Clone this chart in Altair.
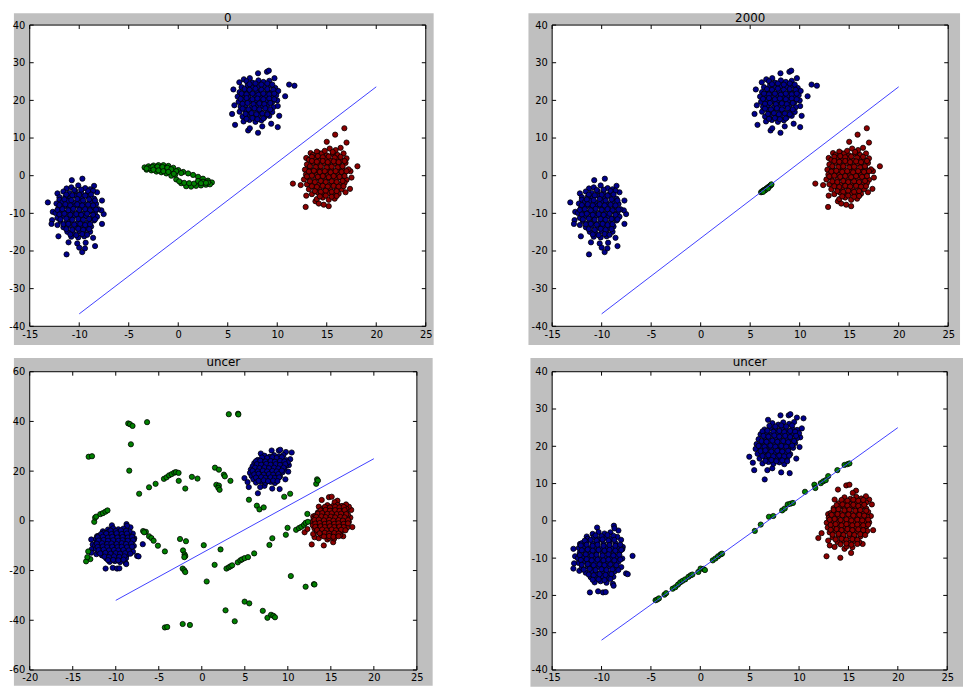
"""Four scatter panels: clusters, a separating line and the uncertain points."""

import altair as alt
import pandas as pd

BLUE = "#00008c"
GREEN = "#008000"
RED = "#8c0000"
LINE_COLOR = "#3f3fff"
PANEL_GRAY = "#bfbfbf"
FONT = "DejaVu Sans"

X_TICKS = [-15, -10, -5, 0, 5, 10, 15, 20, 25]
X_TICKS_WIDE = [-20, -15, -10, -5, 0, 5, 10, 15, 20, 25]
Y_TICKS = [-40, -30, -20, -10, 0, 10, 20, 30, 40]
Y_TICKS_WIDE = [-60, -40, -20, 0, 20, 40, 60]

LINE_X = [-10, 20]
LINE_Y_EARLY = [-36.7, 23.6]
LINE_Y_LATE = [-32.0, 25.0]

# clusters of the first two panels
EARLY_BLUE_LOW = [
    (-13.17, -7.1), (-12.67, -9.6), (-12.74, -11.8), (-12.8, -12.8), (-12.2, -13.1), (-12.1, -16.1),
    (-11.28, -20.9), (-11.08, -17.7), (-10.2, -18.0), (-10.0, -19.1), (-9.7, -20.3), (-9.42, -19.3),
    (-9.35, -17.8), (-8.4, -18.7), (-8.6, -16.5), (-7.7, -12.8), (-7.53, -10.2), (-7.76, -9.2),
    (-7.7, -6.6), (-8.5, -2.7), (-8.2, -4.4), (-9.68, -0.8), (-10.75, -1.2), (-11.28, -3.4),
    (-12.2, -4.7), (-12.0, -5.7),
    (-10.8, -3.1), (-10.1, -2.6), (-9.4, -3.3), (-8.9, -3.6),
    (-11.6, -4.2), (-11.0, -4.6), (-10.4, -4.1), (-9.8, -4.5), (-9.2, -4.9), (-8.6, -4.0),
    (-12.0, -6.4), (-11.4, -5.6), (-10.9, -5.9), (-10.3, -5.4), (-9.7, -6.0), (-9.1, -5.5), (-8.5, -6.1),
    (-12.3, -7.4), (-11.7, -7.0), (-11.2, -6.7), (-10.6, -7.2), (-10.0, -6.8), (-9.5, -7.3), (-8.9, -6.9),
    (-8.3, -7.5),
    (-12.1, -8.6), (-11.5, -8.1), (-11.0, -8.5), (-10.4, -8.0), (-9.9, -8.7), (-9.3, -8.2), (-8.7, -8.4),
    (-8.1, -8.9),
    (-12.4, -9.9), (-11.8, -9.4), (-11.3, -9.8), (-10.7, -9.3), (-10.1, -9.7), (-9.6, -10.1), (-9.0, -9.5),
    (-8.4, -9.8),
    (-12.2, -11.2), (-11.6, -10.7), (-11.0, -11.1), (-10.5, -10.6), (-9.9, -11.0), (-9.3, -10.8),
    (-8.8, -11.3), (-8.2, -10.9),
    (-11.9, -12.0), (-11.3, -12.5), (-10.8, -12.1), (-10.2, -12.6), (-9.7, -12.2), (-9.1, -12.4), (-8.5, -11.9),
    (-11.6, -13.7), (-11.0, -13.3), (-10.4, -13.8), (-9.9, -13.4), (-9.3, -13.9), (-8.8, -13.5),
    (-11.2, -14.9), (-10.6, -15.3), (-10.0, -14.7), (-9.5, -15.2), (-8.9, -14.9),
    (-10.8, -16.2), (-10.1, -16.4), (-9.5, -16.1),
]
EARLY_BLUE_LOW_DENSE = [
    (-10.5, -3.8), (-9.8, -3.7), (-9.1, -4.1),
    (-11.3, -5.0), (-10.7, -5.2), (-10.0, -5.1), (-9.4, -5.3), (-8.8, -5.0),
    (-11.5, -6.3), (-10.8, -6.5), (-10.2, -6.2), (-9.6, -6.6), (-9.0, -6.3), (-8.4, -6.6),
    (-12.0, -7.8), (-11.4, -7.6), (-10.9, -7.9), (-10.2, -7.6), (-9.7, -7.9), (-9.1, -7.7), (-8.6, -7.9),
    (-12.2, -9.1), (-11.7, -8.9), (-11.1, -9.2), (-10.6, -8.8), (-10.0, -9.1), (-9.4, -8.9), (-8.9, -9.2),
    (-8.3, -9.0),
    (-12.0, -10.3), (-11.5, -10.1), (-10.9, -10.4), (-10.3, -10.2), (-9.8, -10.4), (-9.2, -10.1),
    (-8.6, -10.4),
    (-11.9, -11.6), (-11.3, -11.4), (-10.7, -11.7), (-10.1, -11.5), (-9.6, -11.7), (-9.0, -11.5),
    (-8.4, -11.6),
    (-11.6, -12.9), (-11.1, -12.8), (-10.5, -13.0), (-9.9, -12.8), (-9.4, -13.1), (-8.9, -12.9),
    (-11.3, -14.2), (-10.7, -14.4), (-10.1, -14.1), (-9.6, -14.4), (-9.0, -14.2),
    (-10.9, -15.6), (-10.3, -15.8), (-9.7, -15.5), (-9.2, -15.7),
]
EARLY_BLUE_HIGH = [
    (5.44, 16.4), (5.57, 22.9), (5.67, 18.7), (5.74, 13.5), (6.17, 24.8), (7.06, 12.0), (7.23, 12.6),
    (8.06, 11.4), (8.49, 13.1), (9.39, 13.8), (10.05, 12.9), (10.2, 15.9), (10.05, 18.5), (10.8, 21.1),
    (11.2, 24.2), (11.74, 23.9), (9.72, 25.9), (8.96, 27.6), (9.15, 27.9), (8.06, 27.2), (7.23, 25.9),
    (6.63, 25.6),
    (6.9, 25.1), (7.5, 24.7), (8.1, 25.3), (8.6, 24.9), (9.2, 25.2),
    (6.4, 23.5), (7.0, 23.9), (7.5, 23.4), (8.1, 23.8), (8.7, 23.5), (9.3, 23.9), (9.8, 23.3),
    (6.2, 22.2), (6.8, 22.6), (7.3, 22.1), (7.9, 22.5), (8.4, 22.0), (9.0, 22.6), (9.5, 22.2), (10.1, 22.5),
    (6.0, 21.0), (6.6, 21.4), (7.1, 20.9), (7.7, 21.3), (8.3, 20.8), (8.8, 21.2), (9.4, 20.9), (9.9, 21.4),
    (6.1, 19.6), (6.7, 20.1), (7.2, 19.7), (7.8, 20.0), (8.4, 19.5), (8.9, 19.9), (9.5, 19.6), (10.0, 20.0),
    (6.3, 18.3), (6.8, 18.7), (7.4, 18.2), (7.9, 18.6), (8.5, 18.4), (9.0, 18.8), (9.6, 18.2),
    (6.2, 17.0), (6.8, 17.4), (7.3, 16.9), (7.9, 17.3), (8.4, 16.8), (9.0, 17.2), (9.5, 16.9),
    (6.5, 15.7), (7.0, 16.1), (7.6, 15.6), (8.1, 16.0), (8.7, 15.5), (9.2, 15.9),
    (6.6, 14.4), (7.2, 14.8), (7.8, 14.3), (8.4, 14.7),
]
EARLY_BLUE_HIGH_DENSE = [
    (7.2, 24.3), (7.8, 24.5), (8.4, 24.2), (9.0, 24.5), (9.5, 24.2),
    (6.7, 23.0), (7.2, 22.8), (7.8, 23.1), (8.4, 22.8), (9.0, 23.0), (9.6, 22.8),
    (6.4, 21.8), (6.9, 21.6), (7.5, 21.8), (8.1, 21.5), (8.6, 21.8), (9.2, 21.6), (9.7, 21.8),
    (6.3, 20.4), (6.9, 20.6), (7.5, 20.3), (8.0, 20.5), (8.6, 20.3), (9.2, 20.5), (9.7, 20.3),
    (6.5, 19.1), (7.0, 19.3), (7.6, 19.0), (8.2, 19.2), (8.7, 19.0), (9.3, 19.3),
    (6.5, 17.8), (7.1, 17.6), (7.7, 17.9), (8.2, 17.6), (8.8, 17.9), (9.3, 17.6),
    (6.8, 16.4), (7.4, 16.6), (7.9, 16.3), (8.5, 16.5), (9.0, 16.3),
    (6.9, 15.1), (7.5, 15.3), (8.0, 15.0), (8.6, 15.2),
]
EARLY_RED = [
    (11.58, -2.1), (12.37, -2.5), (12.87, -8.3), (12.93, -5.3), (13.86, -6.8), (14.2, -7.4), (14.7, -7.7),
    (15.2, -8.1), (16.9, -4.4), (17.35, -3.5), (18.1, 2.5), (17.5, -0.5), (17.4, 1.2), (17.0, 8.8),
    (16.78, 12.6), (15.85, 10.9), (15.0, 9.0), (12.93, 4.7), (13.37, 6.0), (14.2, 6.0),
    (15.3, 7.2), (15.9, 6.8), (16.4, 7.4),
    (13.6, 5.5), (14.5, 5.9), (15.0, 5.4), (15.6, 5.8), (16.1, 5.5), (16.7, 5.9),
    (13.2, 4.2), (13.8, 4.6), (14.3, 4.1), (14.9, 4.5), (15.4, 4.0), (16.0, 4.4), (16.5, 4.1), (17.0, 4.6),
    (13.0, 3.0), (13.6, 3.4), (14.1, 2.9), (14.7, 3.3), (15.2, 2.8), (15.8, 3.2), (16.3, 2.9), (16.9, 3.4),
    (12.8, 1.6), (13.3, 2.0), (13.9, 1.5), (14.4, 1.9), (15.0, 1.4), (15.5, 1.8), (16.1, 1.5), (16.6, 2.0),
    (17.2, 1.7),
    (12.9, 0.3), (13.5, 0.7), (14.0, 0.2), (14.6, 0.6), (15.1, 0.1), (15.7, 0.5), (16.2, 0.2), (16.8, 0.7),
    (12.7, -1.0), (13.2, -0.6), (13.8, -1.1), (14.3, -0.7), (14.9, -1.2), (15.4, -0.8), (16.0, -1.0),
    (16.5, -0.6), (17.0, -1.1),
    (13.0, -2.3), (13.5, -1.9), (14.1, -2.4), (14.6, -2.0), (15.2, -2.5), (15.7, -2.1), (16.3, -2.3),
    (16.8, -1.9),
    (13.2, -3.6), (13.8, -3.2), (14.3, -3.7), (14.9, -3.3), (15.4, -3.8), (16.0, -3.4), (16.5, -3.6),
    (13.5, -4.9), (14.1, -4.5), (14.6, -5.0), (15.2, -4.6), (15.7, -5.1), (16.2, -4.8),
    (14.0, -6.2), (14.6, -5.8), (15.2, -6.4), (15.8, -6.1),
]
EARLY_RED_DENSE = [
    (14.0, 6.4), (14.8, 6.6), (15.6, 6.3),
    (13.5, 5.0), (14.1, 5.2), (14.6, 4.9), (15.2, 5.1), (15.8, 4.8), (16.4, 5.0),
    (13.5, 3.9), (14.0, 3.7), (14.6, 3.9), (15.1, 3.6), (15.7, 3.8), (16.2, 3.6), (16.8, 3.9),
    (13.3, 2.5), (13.9, 2.3), (14.4, 2.5), (15.0, 2.2), (15.5, 2.4), (16.1, 2.2), (16.6, 2.5),
    (13.2, 1.1), (13.7, 1.3), (14.3, 1.0), (14.8, 1.2), (15.4, 0.9), (15.9, 1.2), (16.5, 1.0), (17.0, 1.2),
    (13.0, -0.2), (13.5, 0.0), (14.1, -0.3), (14.6, -0.1), (15.2, -0.4), (15.7, -0.1), (16.3, -0.3),
    (16.8, -0.1),
    (13.3, -1.5), (13.8, -1.7), (14.4, -1.4), (14.9, -1.7), (15.5, -1.5), (16.0, -1.7), (16.6, -1.4),
    (13.5, -2.8), (14.0, -3.0), (14.6, -2.7), (15.1, -2.9), (15.7, -2.7), (16.2, -2.9), (16.7, -2.8),
    (13.8, -4.1), (14.4, -4.3), (14.9, -4.0), (15.5, -4.3), (16.0, -4.1),
    (14.3, -5.5), (14.9, -5.3), (15.5, -5.6), (16.0, -5.4),
]
GREEN_START = [
    (-3.4, 2.2), (-3.0, 2.5), (-2.5, 2.7), (-2.0, 2.8), (-1.5, 2.8), (-1.0, 2.6), (-0.5, 2.1), (0.0, 1.5),
    (0.5, 1.0), (1.0, 0.6), (1.5, 0.2), (2.0, -0.3), (2.5, -0.8), (3.0, -1.3), (3.4, -1.8),
    (-3.2, 1.6), (-2.7, 1.4), (-2.2, 1.1), (-1.7, 0.9), (-1.2, 0.6), (-0.7, 0.0), (-0.2, -1.0), (0.3, -2.0),
    (0.8, -2.8), (1.3, -2.9), (1.8, -2.7), (2.3, -2.6), (2.8, -2.4), (3.2, -2.3),
    (-2.9, 2.0), (-2.4, 2.0), (-1.9, 1.9), (-1.4, 1.7), (-0.9, 1.5), (-0.5, 1.0), (-0.3, 0.3),
    (0.6, -1.9), (1.1, -2.0), (1.6, -2.1), (2.0, -1.4), (2.5, -1.6), (3.0, -1.8),
    (-3.2, 1.9), (-2.6, 2.3), (-2.1, 2.4), (-1.6, 2.3), (-1.1, 2.1), (-0.7, 1.7), (-0.2, 1.2), (0.3, 0.7),
    (-2.5, 1.6), (-2.0, 1.4), (-1.5, 1.2), (-1.0, 1.0), (-0.45, 0.5), (0.1, -1.5), (2.3, -2.0), (2.8, -1.9),
]
GREEN_2000 = [
    (6.1, -4.4), (6.2, -4.2), (6.3, -4.0), (6.4, -3.8), (6.5, -3.7), (6.6, -3.5), (6.7, -3.3), (6.8, -3.1),
    (6.9, -2.9), (7.0, -2.7), (7.1, -2.5), (7.15, -2.3), (6.5, -3.9), (6.8, -3.4), (6.3, -4.3),
]

# clusters of the two lower panels
LATE_BLUE_LOW = [
    (-12.85, -7.5), (-12.68, -9.5), (-12.78, -11.4), (-12.85, -12.8), (-12.25, -13.4), (-11.18, -19.2),
    (-10.35, -18.9), (-9.85, -19.2), (-9.58, -19.1), (-8.85, -16.9), (-8.78, -17.4), (-7.52, -14.1),
    (-7.35, -14.3), (-6.86, -9.4), (-7.85, -7.0), (-8.02, -5.1), (-8.29, -2.6), (-8.75, -1.3),
    (-8.69, -2.0), (-10.45, -1.8), (-11.5, -4.2), (-12.18, -6.2),
    (-10.9, -3.5), (-10.3, -3.0), (-9.7, -3.4), (-9.1, -3.1),
    (-11.4, -4.8), (-10.8, -4.4), (-10.2, -4.9), (-9.6, -4.5), (-9.0, -4.8), (-8.4, -4.3),
    (-12.0, -6.0), (-11.5, -5.6), (-10.9, -6.1), (-10.4, -5.7), (-9.8, -6.2), (-9.2, -5.8), (-8.6, -6.0),
    (-12.3, -7.3), (-11.8, -6.9), (-11.2, -7.4), (-10.7, -7.0), (-10.1, -7.5), (-9.5, -7.1), (-9.0, -7.4),
    (-8.4, -7.0), (-7.9, -7.6),
    (-12.2, -8.6), (-11.6, -8.3), (-11.1, -8.8), (-10.5, -8.4), (-9.9, -8.7), (-9.4, -8.3), (-8.8, -8.8),
    (-8.2, -8.4),
    (-12.4, -10.0), (-11.9, -9.6), (-11.3, -10.1), (-10.8, -9.7), (-10.2, -10.2), (-9.6, -9.8),
    (-9.1, -10.0), (-8.5, -9.6), (-7.9, -10.1),
    (-12.3, -11.3), (-11.7, -10.9), (-11.1, -11.4), (-10.6, -11.0), (-10.0, -11.3), (-9.4, -10.9),
    (-8.9, -11.4), (-8.3, -11.0),
    (-12.0, -12.6), (-11.4, -12.2), (-10.9, -12.7), (-10.3, -12.3), (-9.8, -12.6), (-9.2, -12.2),
    (-8.6, -12.7), (-8.0, -12.4),
    (-11.6, -13.9), (-11.0, -13.5), (-10.5, -14.0), (-9.9, -13.6), (-9.3, -14.0), (-8.7, -13.6),
    (-11.1, -15.1), (-10.5, -15.4), (-9.9, -14.9), (-9.3, -15.3), (-8.8, -15.0),
    (-10.7, -16.5), (-10.1, -16.2), (-9.5, -16.6),
]
LATE_BLUE_LOW_DENSE = [
    (-10.6, -3.9), (-10.0, -4.1), (-9.4, -3.8), (-8.8, -4.0),
    (-11.7, -5.3), (-11.1, -5.1), (-10.5, -5.3), (-9.9, -5.0), (-9.3, -5.3), (-8.7, -5.1),
    (-12.1, -6.6), (-11.5, -6.4), (-10.9, -6.7), (-10.4, -6.4), (-9.8, -6.7), (-9.2, -6.5), (-8.6, -6.7),
    (-8.1, -6.4),
    (-12.0, -7.9), (-11.4, -7.7), (-10.9, -8.0), (-10.3, -7.8), (-9.7, -8.0), (-9.2, -7.8), (-8.6, -8.0),
    (-8.0, -7.8),
    (-12.2, -9.2), (-11.6, -9.0), (-11.0, -9.3), (-10.5, -9.1), (-9.9, -9.3), (-9.3, -9.0), (-8.8, -9.3),
    (-8.2, -9.1),
    (-12.1, -10.5), (-11.5, -10.3), (-11.0, -10.6), (-10.4, -10.4), (-9.8, -10.6), (-9.3, -10.4),
    (-8.7, -10.6), (-8.1, -10.4),
    (-12.0, -11.8), (-11.4, -11.6), (-10.8, -11.9), (-10.2, -11.7), (-9.7, -11.9), (-9.1, -11.7),
    (-8.5, -11.9),
    (-11.8, -13.1), (-11.2, -12.9), (-10.6, -13.2), (-10.0, -13.0), (-9.5, -13.2), (-8.9, -13.0),
    (-8.3, -13.2),
    (-11.3, -14.4), (-10.8, -14.6), (-10.2, -14.3), (-9.6, -14.5), (-9.0, -14.3),
    (-10.9, -15.8), (-10.3, -15.7), (-9.7, -15.9), (-9.1, -15.6),
]
LATE_BLUE_HIGH = [
    (4.96, 17.2), (5.46, 13.6), (5.32, 15.6), (6.86, 27.1), (8.12, 28.3), (8.95, 28.3), (9.12, 28.6),
    (9.78, 27.7), (10.45, 27.5), (10.28, 24.8), (10.12, 22.4), (10.05, 19.8), (9.72, 16.7), (9.05, 12.8),
    (8.19, 13.0), (6.52, 11.1), (7.29, 14.1), (6.79, 13.6),
    (7.3, 26.2), (7.9, 25.8), (8.4, 26.4), (9.0, 26.0), (9.5, 26.5),
    (6.5, 24.5), (7.1, 24.9), (7.6, 24.4), (8.2, 24.8), (8.7, 24.3), (9.3, 24.7), (9.8, 24.4),
    (6.1, 23.2), (6.7, 23.6), (7.2, 23.1), (7.8, 23.5), (8.3, 23.0), (8.9, 23.4), (9.4, 23.1), (10.0, 23.5),
    (5.9, 21.9), (6.5, 22.3), (7.0, 21.8), (7.6, 22.2), (8.1, 21.7), (8.7, 22.1), (9.2, 21.8), (9.8, 22.2),
    (5.7, 20.6), (6.3, 21.0), (6.8, 20.5), (7.4, 20.9), (7.9, 20.4), (8.5, 20.8), (9.0, 20.5), (9.6, 20.9),
    (5.6, 19.3), (6.1, 19.7), (6.7, 19.2), (7.2, 19.6), (7.8, 19.1), (8.3, 19.5), (8.9, 19.2), (9.4, 19.6),
    (5.8, 18.0), (6.4, 18.4), (6.9, 17.9), (7.5, 18.3), (8.0, 17.8), (8.6, 18.2), (9.1, 17.9),
    (6.0, 16.7), (6.6, 17.1), (7.1, 16.6), (7.7, 17.0), (8.2, 16.5), (8.8, 16.9),
    (6.3, 15.4), (6.9, 15.8), (7.4, 15.3), (8.0, 15.7), (8.5, 15.2),
]
LATE_BLUE_HIGH_DENSE = [
    (7.0, 25.5), (7.6, 25.3), (8.2, 25.6), (8.7, 25.3), (9.3, 25.6),
    (6.3, 24.0), (6.8, 24.2), (7.4, 23.9), (8.0, 24.1), (8.5, 23.8), (9.1, 24.1), (9.6, 23.9),
    (6.4, 22.8), (6.9, 22.6), (7.5, 22.9), (8.0, 22.6), (8.6, 22.8), (9.1, 22.5), (9.7, 22.8),
    (6.2, 21.4), (6.7, 21.2), (7.3, 21.5), (7.8, 21.2), (8.4, 21.4), (8.9, 21.1), (9.5, 21.4),
    (5.9, 20.1), (6.5, 19.9), (7.1, 20.2), (7.6, 19.9), (8.2, 20.1), (8.7, 19.9), (9.3, 20.2),
    (6.1, 18.7), (6.6, 18.9), (7.2, 18.6), (7.8, 18.8), (8.3, 18.6), (8.9, 18.8),
    (6.3, 17.4), (6.9, 17.6), (7.4, 17.3), (8.0, 17.5), (8.5, 17.3), (9.0, 17.5),
    (6.6, 16.1), (7.2, 16.3), (7.7, 16.0), (8.3, 16.2), (8.8, 16.0),
]
LATE_RED = [
    (11.95, -4.6), (12.28, -3.3), (12.78, -9.5), (13.11, -6.6), (12.95, -5.3), (14.18, -9.9), (13.6, -7.0),
    (14.6, -7.5), (15.27, -8.6), (16.44, -6.2), (17.5, -2.5), (17.27, 1.3), (17.37, 4.4), (17.1, 5.7),
    (16.77, 6.6), (15.77, 8.1), (15.44, 7.5), (14.78, 9.5), (15.1, 9.7), (13.94, 8.4), (13.6, 5.7),
    (12.95, 1.8),
    (14.6, 6.3), (15.2, 5.9), (15.8, 6.4), (16.3, 6.0),
    (14.0, 4.7), (14.6, 5.1), (15.1, 4.6), (15.7, 5.0), (16.2, 4.5), (16.8, 4.9),
    (13.5, 3.4), (14.1, 3.8), (14.6, 3.3), (15.2, 3.7), (15.7, 3.2), (16.3, 3.6), (16.8, 3.3),
    (13.2, 2.1), (13.8, 2.5), (14.3, 2.0), (14.9, 2.4), (15.4, 1.9), (16.0, 2.3), (16.5, 2.0), (17.0, 2.4),
    (13.0, 0.8), (13.6, 1.2), (14.1, 0.7), (14.7, 1.1), (15.2, 0.6), (15.8, 1.0), (16.3, 0.7), (16.9, 1.1),
    (12.8, -0.5), (13.3, -0.1), (13.9, -0.6), (14.4, -0.2), (15.0, -0.7), (15.5, -0.3), (16.1, -0.5),
    (16.6, -0.1), (17.1, -0.4),
    (12.9, -1.8), (13.5, -1.4), (14.0, -1.9), (14.6, -1.5), (15.1, -2.0), (15.7, -1.6), (16.2, -1.8),
    (16.8, -1.4),
    (13.1, -3.1), (13.7, -2.7), (14.2, -3.2), (14.8, -2.8), (15.3, -3.3), (15.9, -2.9), (16.4, -3.1),
    (16.9, -2.7),
    (13.4, -4.4), (14.0, -4.0), (14.5, -4.5), (15.1, -4.1), (15.6, -4.6), (16.2, -4.2),
    (13.9, -5.7), (14.5, -5.3), (15.0, -5.8), (15.6, -5.4), (16.1, -5.7),
    (14.8, -6.9), (15.4, -7.1),
]
LATE_RED_DENSE = [
    (14.3, 5.6), (14.9, 5.4), (15.5, 5.7), (16.0, 5.4), (16.5, 5.6),
    (13.8, 4.2), (14.4, 4.4), (14.9, 4.1), (15.5, 4.3), (16.0, 4.0), (16.6, 4.3),
    (13.5, 2.9), (14.0, 3.1), (14.6, 2.8), (15.1, 3.0), (15.7, 2.7), (16.2, 2.9), (16.8, 2.7),
    (13.3, 1.6), (13.9, 1.8), (14.4, 1.5), (15.0, 1.7), (15.5, 1.4), (16.1, 1.6), (16.6, 1.4),
    (13.1, 0.3), (13.6, 0.5), (14.2, 0.2), (14.8, 0.4), (15.3, 0.1), (15.9, 0.3), (16.4, 0.1), (17.0, 0.3),
    (13.2, -1.1), (13.7, -0.9), (14.3, -1.2), (14.8, -0.9), (15.4, -1.2), (15.9, -1.0), (16.5, -1.2),
    (17.0, -1.0),
    (13.2, -2.4), (13.8, -2.2), (14.3, -2.5), (14.9, -2.2), (15.4, -2.5), (16.0, -2.3), (16.5, -2.5),
    (13.4, -3.7), (14.0, -3.5), (14.5, -3.8), (15.1, -3.5), (15.6, -3.8), (16.2, -3.6), (16.7, -3.8),
    (13.7, -5.0), (14.3, -4.8), (14.8, -5.1), (15.4, -4.9), (15.9, -5.1),
    (14.2, -6.3), (14.8, -6.1), (15.3, -6.4), (15.9, -6.2),
]
GREEN_SCATTERED = [
    (-8.55, 39.2), (-8.35, 38.9), (-8.05, 38.2), (-6.36, 39.7), (-8.24, 30.8), (-8.43, 20.2), (-13.15, 25.8),
    (-12.76, 26.0), (3.14, 42.9), (4.22, 43.1), (4.25, 42.8), (1.53, 21.4), (1.99, 20.6), (2.57, 18.6),
    (2.68, 17.9), (3.33, 16.1), (1.69, 14.5), (1.99, 14.2), (1.92, 13.3), (2.07, 12.5), (-1.15, 17.7),
    (-0.5, 17.0), (-1.92, 13.0), (-2.68, 16.1), (-4.4, 16.9), (-4.1, 17.5), (-3.8, 18.3), (-3.5, 18.8),
    (-3.2, 19.4), (-3.0, 19.6), (-2.7, 19.3), (-5.37, 14.9), (-6.13, 13.5), (-7.28, 10.9), (-12.5, -0.4),
    (-12.4, 1.3), (-12.27, 1.7), (-11.8, 2.7), (-11.5, 3.1), (-11.2, 3.7), (-10.96, 4.2), (-6.82, -4.1),
    (-6.5, -4.4), (-6.7, -4.6), (-6.13, -6.2), (-5.86, -6.9), (-5.6, -8.0), (-5.1, -10.0), (-4.29, -12.3),
    (-2.53, -7.3), (-1.84, -8.2), (-2.18, -11.9), (-2.0, -13.5), (-1.92, -14.2), (-2.03, -14.6),
    (-2.22, -19.2), (-2.03, -19.9), (-1.92, -20.6), (0.23, -9.8), (0.57, -24.4), (2.18, -11.5),
    (1.49, -17.7), (2.87, -19.2), (3.14, -18.7), (3.33, -18.3), (3.53, -17.9), (4.18, -16.7), (4.48, -15.9),
    (4.68, -15.5), (4.98, -15.0), (5.37, -14.6), (6.09, -13.1), (5.48, 8.5), (6.4, 6.1), (6.7, 4.6),
    (7.2, 5.4), (7.86, -9.7), (8.2, -7.0), (9.58, 9.7), (10.27, 10.9), (13.3, 14.9), (13.4, 16.7),
    (13.5, 16.2), (12.27, 2.8), (9.97, -2.8), (9.77, -5.6), (10.96, -3.6), (11.3, -2.9), (11.57, -2.4),
    (11.88, -1.6), (12.07, -0.8), (12.34, -0.4), (10.35, -22.2), (12.07, -26.5), (13.03, -25.5),
    (13.1, -25.6), (2.76, -36.0), (3.83, -40.4), (4.98, -32.5), (5.52, -33.2), (7.09, -36.2), (7.63, -39.0),
    (8.05, -37.8), (8.32, -38.2), (8.51, -38.8), (-4.29, -42.9), (-4.02, -42.7), (-2.22, -41.5),
    (-1.38, -41.9), (-13.45, -16.3), (-13.2, -12.3), (-12.95, -15.4), (-13.3, -14.6),
]
GREEN_ON_LINE = [
    (-4.53, -21.3), (-4.36, -21.1), (-4.19, -20.8), (-3.63, -19.8), (-3.46, -19.4), (-2.8, -18.2),
    (-2.53, -17.8), (-2.26, -17.1), (-2.03, -16.5), (-1.8, -16.1), (-1.53, -15.7), (-1.2, -15.0),
    (-0.97, -14.6), (-0.8, -14.4), (-0.2, -13.7), (0.03, -12.8), (0.3, -12.9), (0.47, -13.2), (1.26, -10.6),
    (1.53, -10.1), (1.8, -9.5), (2.06, -9.0), (2.2, -8.8), (5.52, -2.7), (6.12, -1.0), (6.95, 1.1),
    (7.39, 1.3), (8.29, 2.8), (8.55, 3.3), (8.85, 4.4), (9.12, 4.6), (9.38, 4.8), (10.6, 7.8), (11.55, 9.7),
    (11.65, 8.8), (12.2, 10.1), (12.45, 10.6), (12.7, 10.9), (12.95, 12.0), (13.88, 13.6), (14.6, 15.0),
    (14.9, 15.2), (15.1, 15.4),
]

GROUPS = ["blue", "green", "red"]
GROUP_COLORS = [BLUE, GREEN, RED]

EARLY_CLUSTERS = [
    ("blue", EARLY_BLUE_LOW), ("blue", EARLY_BLUE_LOW_DENSE), ("blue", EARLY_BLUE_HIGH),
    ("blue", EARLY_BLUE_HIGH_DENSE), ("red", EARLY_RED), ("red", EARLY_RED_DENSE),
]
LATE_CLUSTERS = [
    ("blue", LATE_BLUE_LOW), ("blue", LATE_BLUE_LOW_DENSE), ("blue", LATE_BLUE_HIGH),
    ("blue", LATE_BLUE_HIGH_DENSE), ("red", LATE_RED), ("red", LATE_RED_DENSE),
]


def points_frame(clusters, green):
    rows = []
    for name, pts in clusters + [("green", green)]:
        rows += [{"x": x, "y": y, "group": name} for x, y in pts]
    return pd.DataFrame(rows)


def panel(title, points, line_y, x_ticks, y_ticks, width, height, gray, title_gap):
    x_scale = alt.Scale(domain=[x_ticks[0], x_ticks[-1]], nice=False, zero=False)
    y_scale = alt.Scale(domain=[y_ticks[0], y_ticks[-1]], nice=False, zero=False)
    common = dict(
        title=None, grid=False, domain=False, ticks=False, tickSize=0, labelOverlap=False,
        labelFont=FONT, labelFontSize=10, labelColor="black", labelExpr="'' + datum.value", zindex=1,
    )
    x_enc = alt.X("x:Q", scale=x_scale, axis=alt.Axis(values=x_ticks, labelPadding=3, labelFlush=False, **common))
    y_enc = alt.Y("y:Q", scale=y_scale, axis=alt.Axis(values=y_ticks, labelPadding=5, **common))

    one = pd.DataFrame({"k": [0]})
    left, right, top, bottom = gray
    backdrop = alt.Chart(one).mark_rect(color=PANEL_GRAY).encode(
        x=alt.value(-left), x2=alt.value(width + right), y=alt.value(-top), y2=alt.value(height + bottom)
    )
    face = alt.Chart(one).mark_rect(color="white").encode(
        x=alt.value(0), x2=alt.value(width), y=alt.value(0), y2=alt.value(height)
    )
    heading = alt.Chart(one).mark_text(
        text=title, font=FONT, fontSize=12, color="black", align="center", baseline="alphabetic"
    ).encode(x=alt.value(width / 2), y=alt.value(-title_gap))
    dots = (
        alt.Chart(points)
        .mark_circle(size=28, opacity=1, stroke="black", strokeWidth=0.8)
        .encode(
            x=x_enc,
            y=y_enc,
            fill=alt.Fill("group:N", scale=alt.Scale(domain=GROUPS, range=GROUP_COLORS), legend=None),
        )
    )
    line = (
        alt.Chart(pd.DataFrame({"x": LINE_X, "y": line_y}))
        .mark_line(color=LINE_COLOR, strokeWidth=1)
        .encode(x=x_enc, y=y_enc)
    )
    xt = pd.DataFrame({"x": x_ticks})
    yt = pd.DataFrame({"y": y_ticks})
    ticks = [
        alt.Chart(xt).mark_rule(color="black").encode(x=x_enc, y=alt.value(height), y2=alt.value(height - 4)),
        alt.Chart(xt).mark_rule(color="black").encode(x=x_enc, y=alt.value(0), y2=alt.value(4)),
        alt.Chart(yt).mark_rule(color="black").encode(y=y_enc, x=alt.value(0), x2=alt.value(4)),
        alt.Chart(yt).mark_rule(color="black").encode(y=y_enc, x=alt.value(width - 4), x2=alt.value(width)),
    ]
    frame = alt.Chart(one).mark_rect(filled=False, color="black", strokeWidth=1).encode(
        x=alt.value(0), x2=alt.value(width), y=alt.value(0), y2=alt.value(height)
    )
    return alt.layer(backdrop, face, heading, dots, line, *ticks, frame).properties(width=width, height=height)


early = points_frame(EARLY_CLUSTERS, GREEN_START)
settled = points_frame(EARLY_CLUSTERS, GREEN_2000)
scattered = points_frame(LATE_CLUSTERS, GREEN_SCATTERED)
aligned = points_frame(LATE_CLUSTERS, GREEN_ON_LINE)

top_left = panel("0", early, LINE_Y_EARLY, X_TICKS, Y_TICKS, 401, 305, (16, 8, 12, 19), 3)
top_right = panel("2000", settled, LINE_Y_EARLY, X_TICKS, Y_TICKS, 401, 305, (24, 12, 12, 19), 3)
bottom_left = panel("uncer", scattered, LINE_Y_LATE, X_TICKS_WIDE, Y_TICKS_WIDE, 392, 302, (16, 16, 14, 16), 6)
bottom_right = panel("uncer", aligned, LINE_Y_LATE, X_TICKS, Y_TICKS, 400, 302, (22, 16, 14, 17), 6)

chart = (
    alt.concat(
        top_left, top_right, bottom_left, bottom_right,
        columns=2,
        spacing={"row": 46, "column": 128},
        bounds="flush",
    )
    .properties(padding=0, background="white")
    .configure_view(strokeWidth=0)
)

chart.save("out.html", embed_options={"renderer": "svg", "actions": False})
